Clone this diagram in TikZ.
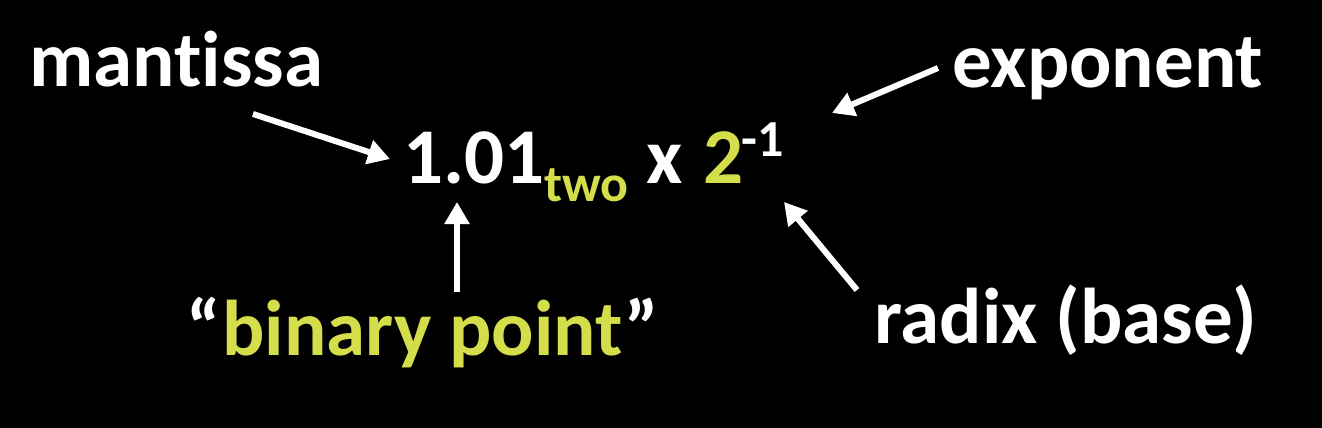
\documentclass[tikz,border=0pt]{standalone}
\usepackage{fontspec}
\setmainfont{Carlito}[Ligatures=NoCommon]
\usetikzlibrary{arrows.meta}
\definecolor{ylw}{HTML}{D4DE4A}
\tikzset{
  lbl/.style={inner sep=0pt, anchor=base west, text=white, font=\bfseries\fontsize{79}{90}\selectfont},
  sml/.style={inner sep=0pt, anchor=base west, font=\bfseries\fontsize{52}{60}\selectfont},
  arr/.style={white, line width=6pt, -{Triangle[length=22pt,width=24pt]}}
}
\begin{document}
\begin{tikzpicture}[x=1pt,y=-1pt]
\fill[black] (0,0) rectangle (1322,428);
\useasboundingbox (0,0) rectangle (1322,428);
\node[lbl] (mant) at (29,86) {mantissa};
\node[lbl] (expo) at (952,88) {exponent};
\node[lbl] (num) at (403,183) {1.01};
\node[sml, text=ylw] (two) at (544,201) {two};
\node[lbl] (times) at (646,183) {x};
\node[lbl, text=ylw] (base) at (703,183) {2};
\node[sml, text=white] (ex) at (741,156) {-1};
\node[lbl] (bp) at (186,355) {“\kern2pt\textcolor{ylw}{binary point}\kern2pt”};
\node[lbl] (radix) at (874,343) {radix (base)};
\coordinate (m1) at (253,114);
\coordinate (m2) at (390,159);
\coordinate (e1) at (938,68);
\coordinate (e2) at (832,113);
\coordinate (r1) at (857,290);
\coordinate (r2) at (784,202);
\coordinate (b1) at (457,292);
\coordinate (b2) at (457,202);
\draw[arr] (m1) -- (m2);
\draw[arr] (e1) -- (e2);
\draw[arr] (r1) -- (r2);
\draw[arr] (b1) -- (b2);
\end{tikzpicture}
\end{document}
